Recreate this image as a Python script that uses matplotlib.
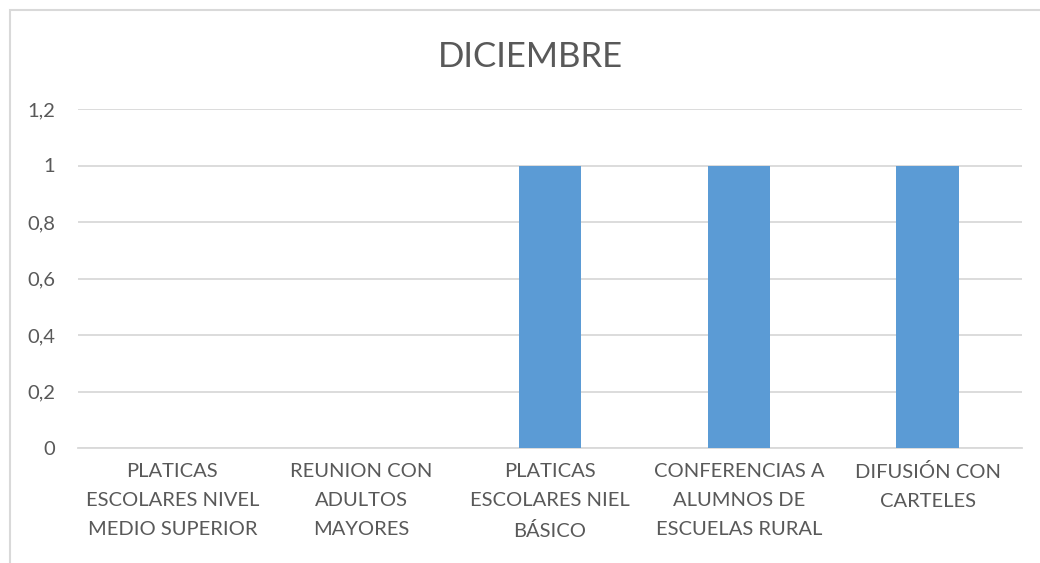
import matplotlib
matplotlib.use("Agg")
import matplotlib.pyplot as plt
from matplotlib.patches import Rectangle
from matplotlib.ticker import FuncFormatter

categories = [
    "PLATICAS\nESCOLARES NIVEL\nMEDIO SUPERIOR",
    "REUNION CON\nADULTOS\nMAYORES",
    "PLATICAS\nESCOLARES NIEL\nBÁSICO",
    "CONFERENCIAS A\nALUMNOS DE\nESCUELAS RURAL",
    "DIFUSIÓN CON\nCARTELES",
]
values = [0, 0, 1, 1, 1]
yticks = [0, 0.2, 0.4, 0.6, 0.8, 1.0, 1.2]
title = "DICIEMBRE"

plt.rcParams['font.family'] = ['Lato', 'DejaVu Sans']
text_color = "#595959"
grid_color = "#D9D9D9"
bar_color = "#5B9BD5"

fig = plt.figure(figsize=(10.4, 5.63), dpi=100)
fig.patches.append(Rectangle((9.5/1040, -0.1), 1.2, 1 - 10/563 + 0.1,
                             transform=fig.transFigure, fill=False,
                             edgecolor=grid_color, linewidth=1.5, zorder=0))
ax = fig.add_axes([78/1040, 1 - 448/563, (1022-78)/1040, (448-109)/563])

x = list(range(len(categories)))
ax.bar(x, values, width=0.33, color=bar_color, zorder=3)
ax.set_xlim(-0.5, len(categories) - 0.5)
ax.set_ylim(0, 1.2)
ax.set_yticks(yticks)
ax.yaxis.set_major_formatter(FuncFormatter(lambda v, p: ("%g" % round(v, 1)).replace(".", ",")))
ax.set_xticks(x)
ax.set_xticklabels(categories, fontsize=14.5, color=text_color, linespacing=1.85)
ax.tick_params(axis='y', length=0, pad=16.5, labelsize=14.5, labelcolor=text_color)
ax.tick_params(axis='x', length=0, pad=11)
ax.yaxis.grid(True, color=grid_color, linewidth=1.3, zorder=0)
for s in ax.spines.values():
    s.set_visible(False)
ax.spines['bottom'].set_visible(True)
ax.spines['bottom'].set_color(grid_color)
ax.spines['bottom'].set_linewidth(1.3)

fig.text(530/1040, 1 - 57/563, title, ha='center', va='center',
         fontsize=25, color=text_color)

fig.savefig("out.png", dpi=100)
